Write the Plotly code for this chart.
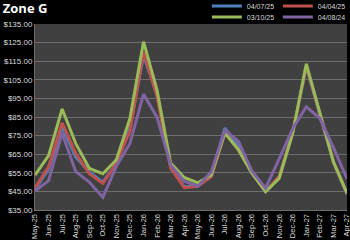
import plotly.graph_objects as go

months = ["May-25", "Jun-25", "Jul-25", "Aug-25", "Sep-25", "Oct-25", "Nov-25", "Dec-25",
          "Jan-26", "Feb-26", "Mar-26", "Apr-26", "May-26", "Jun-26", "Jul-26", "Aug-26",
          "Sep-26", "Oct-26", "Nov-26", "Dec-26", "Jan-27", "Feb-27", "Mar-27", "Apr-27"]

s_040725 = [46.0, 57.0, 79.5, 63.5, 55.5, 50.0, 60.0, 79.0, 118.0, 97.0, 58.0, 47.5,
            48.0, 53.0, 79.0, 69.5, 55.0, 45.0, 53.0, 77.0, 112.0, 86.0, 60.5, 43.5]
s_040425 = [46.8, 58.3, 81.8, 65.5, 54.5, 49.3, 60.1, 77.5, 120.0, 96.0, 57.5, 47.0,
            47.8, 53.0, 76.5, 67.3, 54.8, 45.0, 53.0, 76.5, 112.5, 86.5, 60.8, 43.8]
s_031025 = [53.8, 64.2, 89.3, 70.8, 57.4, 54.5, 62.0, 84.3, 125.5, 99.3, 60.3, 52.5,
            49.6, 53.8, 76.4, 67.3, 54.7, 44.8, 52.0, 76.3, 113.6, 87.0, 61.0, 44.0]
s_040824 = [45.2, 50.8, 76.2, 55.6, 50.0, 41.8, 58.5, 70.8, 97.3, 84.8, 59.2, 50.5,
            47.8, 55.6, 78.0, 71.8, 55.8, 46.7, 62.5, 78.8, 90.5, 84.3, 68.5, 51.8]

series_names = ["04/07/25", "04/04/25", "03/10/25", "04/08/24"]
series_values = [s_040725, s_040425, s_031025, s_040824]
series_colors = ["#4f81bd", "#c0504d", "#9bbb59", "#8064a2"]
series_legends = ["legend", "legend", "legend2", "legend2"]

y_ticks = [35, 45, 55, 65, 75, 85, 95, 105, 115, 125, 135]

fig = go.Figure()
for name, vals, col, lg in zip(series_names, series_values, series_colors, series_legends):
    fig.add_trace(go.Scatter(x=months, y=vals, name=name, mode="lines", legend=lg,
                             line=dict(color=col, width=3)))

legend_common = dict(orientation="h", x=1.006, xanchor="right", yanchor="middle",
                     bgcolor="rgba(0,0,0,0)", font=dict(size=7, color="#d9d9d9"),
                     entrywidth=26, entrywidthmode="pixels", itemwidth=30,
                     borderwidth=0)

fig.update_layout(
    width=350, height=240,
    margin=dict(l=35, r=3, t=24, b=30, autoexpand=False),
    paper_bgcolor="#000000",
    plot_bgcolor="#404040",
    font=dict(family="Liberation Sans", size=8, color="#d9d9d9"),
    title=dict(text="<b>Zone G</b>", x=0.008, xanchor="left", y=0.985, yanchor="top",
               font=dict(family="Open Sans", size=13, color="#ffffff")),
    showlegend=True,
    legend=dict(y=1.097, **legend_common),
    legend2=dict(y=1.038, **legend_common),
)
fig.update_xaxes(type="category", tickangle=-90, showgrid=False, zeroline=False,
                 showline=True, linecolor="#6d6d6d", ticks="",
                 tickfont=dict(size=7.5, color="#d9d9d9"))
fig.update_yaxes(range=[35, 135], tickvals=y_ticks, tickformat="$,.2f",
                 showgrid=True, gridcolor="#6d6d6d", gridwidth=1, zeroline=False,
                 showline=True, linecolor="#6d6d6d", ticks="",
                 tickfont=dict(size=8, color="#d9d9d9"))

fig.write_html("out.html")
